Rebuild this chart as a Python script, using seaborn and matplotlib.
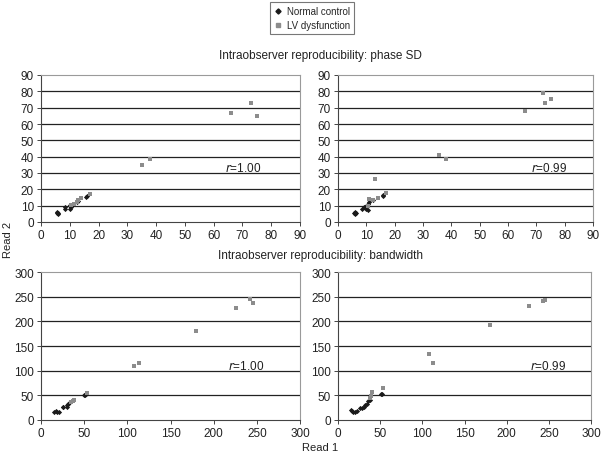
import matplotlib
matplotlib.use("Agg")
import matplotlib.pyplot as plt
import seaborn as sns
import pandas as pd
from matplotlib.lines import Line2D

# ---- data ----
# Phase SD, panel 1 (r = 1.00)
ps1_normal_x = [5.5, 6, 5.5, 6, 8.5, 8.5, 10, 10, 10.5, 10, 12.5, 13, 15.5, 16]
ps1_normal_y = [5.5, 5, 6, 5.5, 8, 9, 10, 8, 9, 10.5, 12, 13, 15.5, 16]
ps1_lv_x = [10.5, 11.5, 12.5, 13, 14, 17, 35, 38, 66, 73, 75]
ps1_lv_y = [10.5, 11, 12.5, 13.5, 15, 17, 35, 38.5, 66.5, 73, 65]

# Phase SD, panel 2 (r = 0.99)
ps2_normal_x = [5.5, 6, 6, 6.5, 8.5, 9, 10, 10, 10.5, 10.5, 11, 12.5, 16, 16]
ps2_normal_y = [5.5, 5, 6, 5.5, 8, 9, 8, 10, 7.5, 11, 12, 13.5, 16, 16.5]
ps2_lv_x = [10.5, 11, 13, 12.5, 14, 17, 35.5, 38, 66, 72.5, 73, 75]
ps2_lv_y = [10, 14, 26.5, 13.5, 15, 18, 41, 38.5, 68, 79, 73, 75.5]

# Bandwidth, panel 1 (r = 1.00)
bw1_normal_x = [15, 17, 18, 21, 25, 26, 30, 30, 31, 33, 50, 51, 52]
bw1_normal_y = [17, 19, 17, 17, 27, 26, 27, 30, 33, 35, 50, 51, 52]
bw1_lv_x = [35, 37, 38, 53, 108, 113, 180, 226, 242, 246]
bw1_lv_y = [37, 39, 41, 55, 110, 116, 181, 228, 245, 237]

# Bandwidth, panel 2 (r = 0.99)
bw2_normal_x = [16, 17, 18, 20, 22, 26, 28, 31, 32, 34, 36, 38, 51, 52]
bw2_normal_y = [20, 18, 17, 17, 19, 25, 25, 27, 30, 32, 38, 40, 52, 53]
bw2_lv_x = [38, 39, 40, 53, 108, 113, 180, 227, 243, 246]
bw2_lv_y = [45, 48, 57, 65, 134, 116, 192, 232, 241, 244]

groups = ["Normal control", "LV dysfunction"]
r_labels = ["1.00", "0.99", "1.00", "0.99"]
titles = ["Intraobserver reproducibility: phase SD",
          "Intraobserver reproducibility: bandwidth"]

def frame(nx, ny, lx, ly):
    return pd.DataFrame({
        "Read 1": nx + lx,
        "Read 2": ny + ly,
        "Group": [groups[0]] * len(nx) + [groups[1]] * len(lx),
    })

panels = [
    frame(ps1_normal_x, ps1_normal_y, ps1_lv_x, ps1_lv_y),
    frame(ps2_normal_x, ps2_normal_y, ps2_lv_x, ps2_lv_y),
    frame(bw1_normal_x, bw1_normal_y, bw1_lv_x, bw1_lv_y),
    frame(bw2_normal_x, bw2_normal_y, bw2_lv_x, bw2_lv_y),
]

sns.set_style("white")
plt.rcParams['font.family'] = ['Liberation Sans', 'DejaVu Sans']

W, H = 605, 456
fig = plt.figure(figsize=(W / 100, H / 100), dpi=100)

def ax_at(l, t, r, b):
    return fig.add_axes([l / W, 1 - b / H, (r - l) / W, (b - t) / H])

rects = [(41, 76, 300, 223), (338, 76, 593, 223),
         (41, 273, 300, 421), (338, 273, 591, 421)]
palette = {groups[0]: "#1a1a1a", groups[1]: "#8c8c8c"}
markers = {groups[0]: "D", groups[1]: "s"}
sizes = {groups[0]: 7, groups[1]: 9}
r_pos = [(64, 33.6), (68, 33.6), (217, 111), (228, 111)]

for i, (rect, df) in enumerate(zip(rects, panels)):
    ax = ax_at(*rect)
    vmax = 90 if i < 2 else 300
    step = 10 if i < 2 else 50
    ticks = list(range(0, vmax + 1, step))
    for y in ticks[1:-1]:
        ax.axhline(y, color="#222222", lw=0.9, zorder=0)
    for g in groups:
        sub = df[df["Group"] == g]
        sns.scatterplot(data=sub, x="Read 1", y="Read 2", color=palette[g],
                        marker=markers[g], s=sizes[g], linewidth=0,
                        ax=ax, legend=False, zorder=3)
    ax.set_xlim(0, vmax)
    ax.set_ylim(0, vmax)
    ax.set_xticks(ticks)
    ax.set_yticks(ticks)
    ax.set_xlabel("")
    ax.set_ylabel("")
    ax.tick_params(axis="both", labelsize=8.5, length=3, width=0.7,
                   color="#444444", labelcolor="#222222", pad=2,
                   direction="out", bottom=True, left=True)
    for side in ["top", "right"]:
        ax.spines[side].set_color("#9a9a9a")
        ax.spines[side].set_linewidth(0.8)
    for side in ["left", "bottom"]:
        ax.spines[side].set_color("#444444")
        ax.spines[side].set_linewidth(0.8)
    ax.text(r_pos[i][0], r_pos[i][1], "$\\it{r}$=" + r_labels[i],
            fontsize=8.5, color="#222222", ha="left", va="center")

fig.text(320 / W, 1 - 56 / H, titles[0], ha="center", va="center",
         fontsize=8.5, color="#222222")
fig.text(320 / W, 1 - 256 / H, titles[1], ha="center", va="center",
         fontsize=8.5, color="#222222")
fig.text(8 / W, 1 - 240 / H, "Read 2", rotation=90, ha="center",
         va="center", fontsize=8, color="#222222")
fig.text(320 / W, 1 - 448 / H, "Read 1", ha="center", va="center",
         fontsize=8, color="#222222")

handles = [Line2D([], [], ls="", marker=markers[g], color=palette[g],
                  markersize=2.6 if g == groups[0] else 3) for g in groups]
leg = fig.legend(handles, groups, loc="center",
                 bbox_to_anchor=(312 / W, 1 - 19 / H), fontsize=7,
                 frameon=True, fancybox=False, edgecolor="#555555",
                 handlelength=0.8, handletextpad=0.5, borderpad=0.4,
                 labelspacing=0.4)
leg.get_frame().set_linewidth(0.8)

fig.savefig("out.png", dpi=100, facecolor="white")
